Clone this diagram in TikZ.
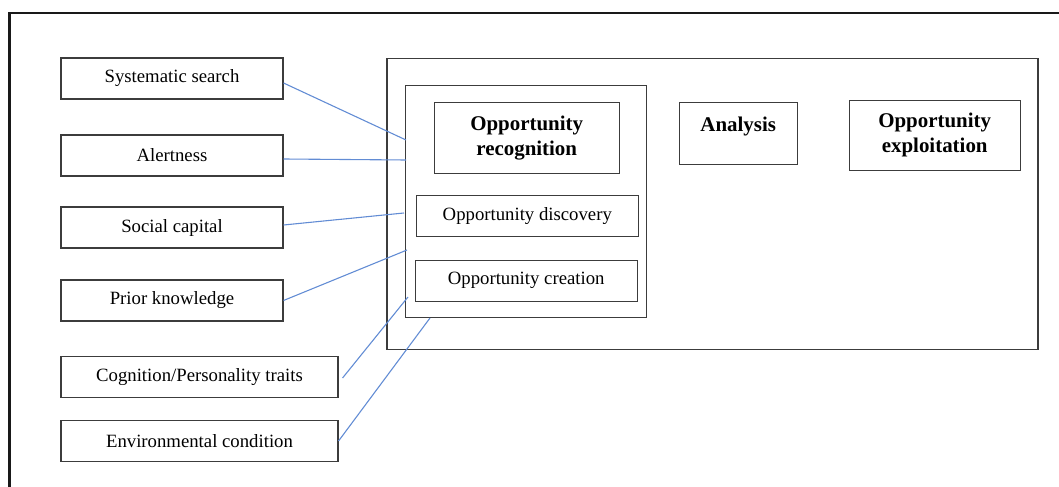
\documentclass[tikz,border=0pt]{standalone}
\usepackage{fontspec}
\setmainfont{Liberation Serif}
\usepackage{tikz}
\usetikzlibrary{positioning,calc}
\usepackage{xcolor}
\definecolor{linkblue}{RGB}{98,140,212}
\definecolor{boxgray}{RGB}{60,60,60}
\newcommand\pxu{0.0225cm}

\begin{document}
\begin{tikzpicture}[
    x=0.0225cm, y=-0.0225cm,
    font=\fontsize{12}{14}\selectfont,
    factor/.style={draw=boxgray, line width=0.7pt, inner sep=0pt, minimum height=41*\pxu, align=center},
    stage/.style={draw=boxgray, line width=0.7pt, inner sep=0pt, align=center, font=\fontsize{13.4}{16}\selectfont\bfseries},
    holder/.style={draw=boxgray, line width=0.7pt, inner sep=0pt},
    link/.style={draw=linkblue, line width=0.7pt},
  ]
    \useasboundingbox (0,0) rectangle (1059,487);
    \draw[line width=1.4pt, black!90] (9.5,487) -- (9.5,13) -- (1059,13);

    \node[factor, minimum width=222*\pxu] (sys) at (172,78.5) {Systematic search};
    \node[factor, minimum width=222*\pxu] (alert) at (172,155.5) {Alertness};
    \node[factor, minimum width=222*\pxu] (social) at (172,227.5) {Social capital};
    \node[factor, minimum width=222*\pxu] (prior) at (172,300.5) {Prior knowledge};
    \node[factor, minimum width=277*\pxu] (cog) at (199.5,377) {Cognition/Personality traits};
    \node[factor, minimum width=277*\pxu] (env) at (199.5,441) {Environmental condition};

    \node[holder, minimum width=651*\pxu, minimum height=291*\pxu] (process) at (712.5,203.7) {};
    \node[holder, minimum width=241*\pxu, minimum height=232*\pxu] (recog) at (526.2,201.7) {};

    \node[stage, minimum width=185*\pxu, minimum height=71*\pxu] (recoghead) at (526.7,138) {Opportunity\\recognition};
    \node[factor, minimum width=222*\pxu] (disc) at (527.3,215.7) {Opportunity discovery};
    \node[factor, minimum width=222*\pxu] (creat) at (526.2,280.8) {Opportunity creation};
    \node[stage, minimum width=118*\pxu, minimum height=62*\pxu, text depth=11pt] (anal) at (738.2,133.3) {Analysis};
    \node[stage, minimum width=171*\pxu, minimum height=70*\pxu] (exploit) at (934.7,135.2) {Opportunity\\exploitation};

    \coordinate (in1) at (406,140);
    \coordinate (in2) at (406,160);
    \coordinate (in3) at (404,213);
    \coordinate (in4) at (407,250);
    \coordinate (in5) at (408,297);
    \coordinate (in6) at (430,318);

    \draw[link] ($(sys.east)+(0,4.5)$) -- (in1);
    \draw[link] ($(alert.east)+(0,3.5)$) -- (in2);
    \draw[link] ($(social.east)+(0,-2.5)$) -- (in3);
    \draw[link] (prior.east) -- (in4);
    \draw[link] ($(cog.east)+(4,1)$) -- (in5);
    \draw[link] (env.east) -- (in6);
  \end{tikzpicture}
\end{document}
